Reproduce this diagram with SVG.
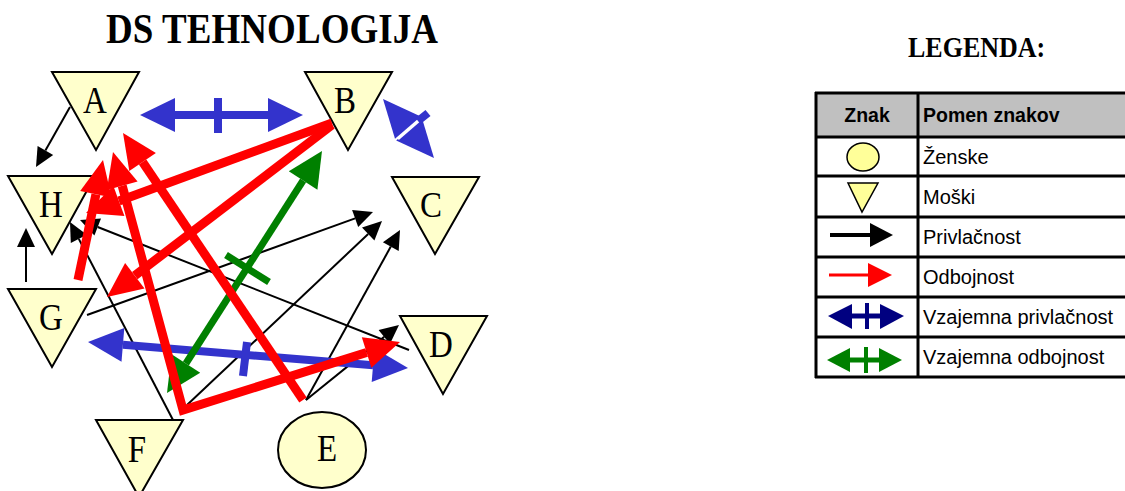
<svg xmlns="http://www.w3.org/2000/svg" width="1125" height="491" viewBox="0 0 1125 491">
<style>
.node{fill:#FFFFCC;stroke:#000;stroke-width:2}
.lbl{font-family:"Liberation Serif","Times New Roman",serif;font-size:33px;fill:#000;text-anchor:middle}
.ttl{font-family:"Liberation Serif","Times New Roman",serif;font-weight:bold;fill:#000}
.blk{stroke:#000;stroke-width:2;fill:none}
.blkh{fill:#000}
.red{stroke:#FF0000;stroke-width:9;fill:none}
.redh{fill:#FF0000}
.blu{stroke:#3333CC;stroke-width:8;fill:none}
.bluh{fill:#3333CC}
.grn{stroke:#008000;stroke-width:7;fill:none}
.grnh{fill:#008000}
.tl{stroke:#000;stroke-width:3}
.lt{font-family:"Liberation Sans",Arial,sans-serif;font-size:20px;fill:#000}
.lth{font-family:"Liberation Sans",Arial,sans-serif;font-size:19.5px;font-weight:bold;fill:#000}
.lsym{fill:#FFFF99;stroke:#000;stroke-width:1.5}
</style>
<rect width="1125" height="491" fill="#fff"/>
<text class="ttl" font-size="37" textLength="332" transform="translate(106 43) scale(1 1.14)">DS TEHNOLOGIJA</text>
<text class="ttl" font-size="26" transform="translate(908 57) scale(1 1.12)">LEGENDA:</text>

<g id="node-A"><polygon class="node" points="52,72 139,72 96,150"/><text class="lbl" transform="translate(95 113) scale(1 1.14)">A</text></g>
<g id="node-B"><polygon class="node" points="305,72 392,72 348,150"/><text class="lbl" transform="translate(345 113) scale(1 1.14)">B</text></g>
<g id="node-C"><polygon class="node" points="392,177 479,177 435,254"/><text class="lbl" font-size="31" transform="translate(431 217) scale(1 1.1)">C</text></g>
<g id="node-D"><polygon class="node" points="400,316 487,316 443,394"/><text class="lbl" transform="translate(441 357) scale(1 1.14)">D</text></g>
<g id="node-E"><ellipse class="node" cx="322" cy="450" rx="44" ry="38"/><text class="lbl" transform="translate(327 461) scale(1 1.14)">E</text></g>
<g id="node-F"><polygon class="node" points="96,420 183,420 139,497"/><text class="lbl" transform="translate(137 462) scale(1 1.14)">F</text></g>
<g id="node-G"><polygon class="node" points="8,289 96,289 52,367"/><text class="lbl" transform="translate(51 330) scale(1 1.14)">G</text></g>
<g id="node-H"><polygon class="node" points="8,176 95,176 52,254"/><text class="lbl" transform="translate(51 217) scale(1 1.14)">H</text></g>

<g id="connectors">
  <!-- black: attraction -->
  <line class="blk" x1="70" y1="107" x2="45.4" y2="150.5"/><polygon class="blkh" points="36,167 37.6,146.1 53.2,154.9"/>
  <line class="blk" x1="26" y1="282" x2="26" y2="247"/><polygon class="blkh" points="26,228 17,247 35,247"/>
  <line class="blk" x1="173" y1="420" x2="78.8" y2="238.9"/><polygon class="blkh" points="70,222 86.8,234.7 70.8,243"/>
  <line class="blk" x1="409" y1="350" x2="97.7" y2="227"/><polygon class="blkh" points="80,220 101,218.6 94.4,235.4"/>
  <line class="blk" x1="87" y1="315" x2="355.1" y2="218.4"/><polygon class="blkh" points="373,212 358.2,226.9 352.1,209.9"/>
  <line class="blk" x1="187" y1="405" x2="368.2" y2="234"/><polygon class="blkh" points="382,221 374.4,240.6 362,227.5"/>
  <line class="blk" x1="306" y1="400" x2="390.8" y2="246.6"/><polygon class="blkh" points="400,230 398.7,251 382.9,242.3"/>
  <line class="blk" x1="306" y1="400" x2="384.2" y2="336.9"/><polygon class="blkh" points="399,325 389.9,343.9 378.6,329.9"/>

  <!-- blue: mutual attraction -->
  <line class="blu" x1="175" y1="115" x2="268" y2="115"/>
  <polygon class="bluh" points="140,115 175,98 175,132"/><polygon class="bluh" points="303,115 268,98 268,132"/>
  <line class="blu" stroke-width="7" x1="218" y1="98" x2="218" y2="133"/>

  <line class="blu" x1="122.9" y1="344.8" x2="373.1" y2="365.2"/>
  <polygon class="bluh" points="88,342 121.5,361.7 124.3,327.9"/><polygon class="bluh" points="408,368 371.7,382.1 374.5,348.3"/>
  <line class="blu" stroke-width="7" x1="247" y1="342" x2="243" y2="376"/>

  <polygon class="bluh" points="434,158 396.2,140.4 422,118.2"/>
  <polygon class="bluh" points="383,99 395,138.8 420.8,116.6"/>
  <line stroke="#fff" stroke-width="2.5" x1="398" y1="139" x2="420" y2="120"/>
  <line class="blu" stroke-width="6" x1="418" y1="121" x2="428" y2="113"/>

  <!-- green: mutual repulsion -->
  <line class="grn" x1="185.9" y1="363.5" x2="303.1" y2="180.5"/>
  <polygon class="grnh" points="322,151 317.4,189.7 288.8,171.3"/><polygon class="grnh" points="167,393 200.2,372.7 171.6,354.3"/>
  <line class="grn" x1="226" y1="255" x2="269" y2="282"/>

  <!-- red: repulsion -->
  <line class="red" x1="332" y1="123" x2="118.9" y2="201"/><polygon class="redh" points="86,213 113.4,186 124.4,216"/>
  <line class="red" x1="332" y1="125" x2="134.8" y2="275.7"/><polygon class="redh" points="107,297 125.1,263 144.5,288.4"/>
  <line class="red" x1="78" y1="280" x2="95.9" y2="194.3"/><polygon class="redh" points="103,160 111.6,197.6 80.2,191"/>
  <line class="red" x1="303" y1="400" x2="142.6" y2="162"/><polygon class="redh" points="123,133 155.9,153.1 129.3,170.9"/>
  <polyline class="red" stroke-linejoin="miter" points="122.2,185.8 183,410 366.6,352.5"/>
  <polygon class="redh" points="113,152 137.6,181.6 106.8,190"/>
  <polygon class="redh" points="400,342 371.4,367.8 361.8,337.2"/>
</g>

<g id="legend">
  <rect x="815" y="93" width="310" height="44" fill="#C0C0C0"/>
  <line class="tl" x1="815" y1="93" x2="1125" y2="93"/>
  <line class="tl" x1="815" y1="137" x2="1125" y2="137"/>
  <line class="tl" x1="815" y1="176" x2="1125" y2="176"/>
  <line class="tl" x1="815" y1="217" x2="1125" y2="217"/>
  <line class="tl" x1="815" y1="257" x2="1125" y2="257"/>
  <line class="tl" x1="815" y1="297" x2="1125" y2="297"/>
  <line class="tl" x1="815" y1="337" x2="1125" y2="337"/>
  <line class="tl" x1="815" y1="377" x2="1125" y2="377"/>
  <line class="tl" x1="816" y1="92" x2="816" y2="378"/>
  <line class="tl" x1="918" y1="92" x2="918" y2="378"/>
  <text class="lth" x="867" y="122" text-anchor="middle">Znak</text>
  <text class="lth" x="923" y="122">Pomen znakov</text>
  <ellipse class="lsym" cx="863" cy="157" rx="16" ry="14"/>
  <text class="lt" x="923" y="164">Ženske</text>
  <polygon class="lsym" points="848,183 878,183 862,212"/>
  <text class="lt" x="923" y="204">Moški</text>
  <line x1="830" y1="235" x2="871" y2="235" stroke="#000" stroke-width="4"/><polygon fill="#000" points="870,223 893,235 870,247"/>
  <text class="lt" x="923" y="244">Privlačnost</text>
  <line x1="829" y1="275" x2="869" y2="275" stroke="#FF0000" stroke-width="3"/><polygon fill="#FF0000" points="868,263 892,275 868,287"/>
  <text class="lt" x="923" y="284">Odbojnost</text>
  <line x1="850" y1="316" x2="882" y2="316" stroke="#000080" stroke-width="5"/>
  <polygon fill="#000080" points="828,316 852,304 852,329"/><polygon fill="#000080" points="904,316 880,304 880,329"/>
  <line x1="867" y1="303" x2="867" y2="329" stroke="#000080" stroke-width="4"/>
  <text class="lt" x="923" y="324">Vzajemna privlačnost</text>
  <line x1="848" y1="360" x2="881" y2="360" stroke="#008000" stroke-width="5"/>
  <polygon fill="#008000" points="827,360 850,348 850,372"/><polygon fill="#008000" points="902,360 879,348 879,372"/>
  <line x1="866" y1="347" x2="866" y2="373" stroke="#008000" stroke-width="4"/>
  <text class="lt" x="923" y="364">Vzajemna odbojnost</text>
</g>
</svg>
